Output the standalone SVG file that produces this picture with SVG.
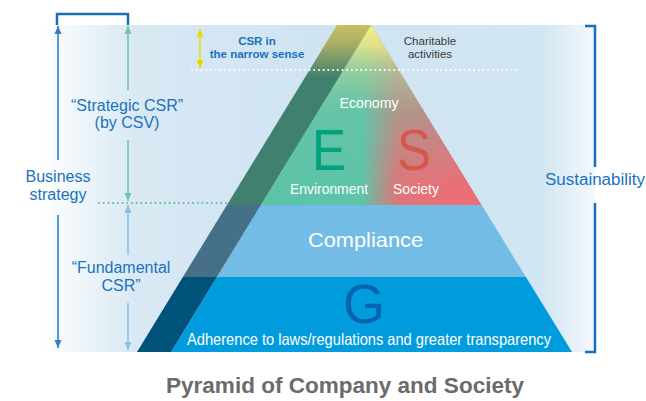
<svg xmlns="http://www.w3.org/2000/svg" width="646" height="401" viewBox="0 0 646 401">
<defs>
<linearGradient id="bg" gradientUnits="userSpaceOnUse" x1="40" y1="0" x2="595" y2="0">
<stop offset="0" stop-color="#ffffff"/>
<stop offset="0.17" stop-color="#d9e9f4"/>
<stop offset="0.5" stop-color="#cfe3f1"/>
<stop offset="0.9" stop-color="#d2e5f2"/>
<stop offset="1" stop-color="#f3f8fc"/>
</linearGradient>
<linearGradient id="es" gradientUnits="userSpaceOnUse" x1="260" y1="0" x2="482" y2="0">
<stop offset="0" stop-color="#5cc3a7"/>
<stop offset="0.46" stop-color="#5ec4a8"/>
<stop offset="0.62" stop-color="#de7679"/>
<stop offset="1" stop-color="#ef6c76"/>
</linearGradient>
<linearGradient id="tip" gradientUnits="userSpaceOnUse" x1="0" y1="25" x2="0" y2="205">
<stop offset="0" stop-color="#faef7e" stop-opacity="1"/>
<stop offset="0.12" stop-color="#e4e487" stop-opacity="0.92"/>
<stop offset="0.25" stop-color="#a9d39c" stop-opacity="0.72"/>
<stop offset="0.5" stop-color="#6cc4a6" stop-opacity="0.38"/>
<stop offset="0.9" stop-color="#6cc4a6" stop-opacity="0"/>
</linearGradient>
<linearGradient id="band" gradientUnits="userSpaceOnUse" x1="0" y1="25" x2="0" y2="352">
<stop offset="0" stop-color="#cbbf63"/>
<stop offset="0.06" stop-color="#a7ad66"/>
<stop offset="0.16" stop-color="#40806f"/>
<stop offset="0.55" stop-color="#40806f"/>
<stop offset="0.5505" stop-color="#466f88"/>
<stop offset="0.77" stop-color="#466f88"/>
<stop offset="0.7706" stop-color="#005279"/>
<stop offset="1" stop-color="#005279"/>
</linearGradient>
<marker id="mBlue" viewBox="0 0 8 8" refX="8" refY="4" markerWidth="8" markerHeight="8" markerUnits="userSpaceOnUse" orient="auto"><path d="M0,0.5 L8,4 L0,7.5 z" fill="#2f82c7"/></marker>
<marker id="mGreen" viewBox="0 0 8 8" refX="8" refY="4" markerWidth="8" markerHeight="8" markerUnits="userSpaceOnUse" orient="auto"><path d="M0,0.5 L8,4 L0,7.5 z" fill="#6cc5a7"/></marker>
<marker id="mLight" viewBox="0 0 8 8" refX="8" refY="4" markerWidth="8" markerHeight="8" markerUnits="userSpaceOnUse" orient="auto"><path d="M0,0.5 L8,4 L0,7.5 z" fill="#86c3e8"/></marker>
<marker id="mYellow" viewBox="0 0 8 8" refX="8" refY="4" markerWidth="8" markerHeight="8" markerUnits="userSpaceOnUse" orient="auto-start-reverse"><path d="M0,0.5 L8,4 L0,7.5 z" fill="#ecd800"/></marker>
<style>
text{font-family:"Liberation Sans",Arial,sans-serif;}
.blue{fill:#1a72bf;font-size:16px;}
.wt{fill:#ffffff;}
.br{fill:none;stroke:#1a6fba;stroke-width:2.5;}
</style>
</defs>

<rect id="panel" x="40" y="25" width="555" height="327" fill="url(#bg)"/>

<g id="pyramid">
<g id="layer-es">
<polygon points="371,25 260.9,205 481.6,205" fill="url(#es)"/>
<polygon points="371,25 260.9,205 481.6,205" fill="url(#tip)"/>
</g>
<polygon id="layer-compliance" points="260.9,205 481.6,205 525.9,277 216.9,277" fill="#73bce6"/>
<polygon id="layer-g" points="216.9,277 525.9,277 572,352 171,352" fill="#009cdd"/>
<polygon id="shadow-band" points="337,25 371,25 171,352 137,352" fill="url(#band)"/>
</g>

<g id="connectors">
<line x1="192" y1="70" x2="519" y2="70" stroke="#ffffff" stroke-width="2" stroke-linecap="round" stroke-dasharray="0.1 4.6"/>
<line x1="99" y1="203" x2="226" y2="203" stroke="#5cbfa0" stroke-width="2" stroke-linecap="round" stroke-dasharray="0.1 4.6"/>
<line x1="200" y1="29" x2="200" y2="68" stroke="#ecd800" stroke-width="1.5" marker-start="url(#mYellow)" marker-end="url(#mYellow)"/>
<path class="br" d="M57,25 V14 H128 V25"/>
<line x1="58" y1="160" x2="58" y2="26" stroke="#2f82c7" stroke-width="1.6" marker-end="url(#mBlue)"/>
<line x1="58" y1="215" x2="58" y2="348" stroke="#2f82c7" stroke-width="1.6" marker-end="url(#mBlue)"/>
<line x1="128" y1="90" x2="128" y2="26" stroke="#6cc5a7" stroke-width="1.6" marker-end="url(#mGreen)"/>
<line x1="128" y1="140" x2="128" y2="201" stroke="#6cc5a7" stroke-width="1.6" marker-end="url(#mGreen)"/>
<line x1="128" y1="255" x2="128" y2="205" stroke="#86c3e8" stroke-width="1.6" marker-end="url(#mLight)"/>
<line x1="128" y1="303" x2="128" y2="350" stroke="#86c3e8" stroke-width="1.6" marker-end="url(#mLight)"/>
<path class="br" d="M585,26 H595 V167"/>
<path class="br" d="M595,203 V352 H585"/>
</g>

<g id="label-csr-narrow">
<text x="257" y="45" text-anchor="middle" font-size="11.5" font-weight="bold" fill="#1a72bf">CSR in</text>
<text x="257" y="57.5" text-anchor="middle" font-size="11.5" font-weight="bold" fill="#1a72bf">the narrow sense</text>
</g>
<g id="label-charitable">
<text x="430" y="45" text-anchor="middle" font-size="11.5" fill="#3a3a3a">Charitable</text>
<text x="430" y="57.5" text-anchor="middle" font-size="11.5" fill="#3a3a3a">activities</text>
</g>
<g id="label-strategic">
<text class="blue" x="127" y="111" text-anchor="middle">“Strategic CSR”</text>
<text class="blue" x="127" y="128" text-anchor="middle">(by CSV)</text>
</g>
<g id="label-business">
<text class="blue" x="58" y="182" text-anchor="middle">Business</text>
<text class="blue" x="58" y="200" text-anchor="middle">strategy</text>
</g>
<g id="label-fundamental">
<text class="blue" x="121" y="273" text-anchor="middle">“Fundamental</text>
<text class="blue" x="121" y="291" text-anchor="middle">CSR”</text>
</g>
<g id="label-sustainability">
<text class="blue" x="545" y="185" font-size="16.5" textLength="100" lengthAdjust="spacingAndGlyphs">Sustainability</text>
</g>

<g id="label-economy"><text class="wt" x="369" y="108" text-anchor="middle" font-size="15" textLength="59" lengthAdjust="spacingAndGlyphs">Economy</text></g>
<g id="label-e"><text x="329" y="170" text-anchor="middle" font-size="58" fill="#00a37c" textLength="34" lengthAdjust="spacingAndGlyphs">E</text></g>
<g id="label-s"><text x="414" y="170" text-anchor="middle" font-size="58" fill="#d6574e" textLength="34" lengthAdjust="spacingAndGlyphs">S</text></g>
<g id="label-environment"><text class="wt" x="329" y="194" text-anchor="middle" font-size="14.5" textLength="78" lengthAdjust="spacingAndGlyphs">Environment</text></g>
<g id="label-society"><text class="wt" x="416" y="194" text-anchor="middle" font-size="14.5" textLength="46" lengthAdjust="spacingAndGlyphs">Society</text></g>
<g id="label-compliance"><text class="wt" x="365.5" y="247" text-anchor="middle" font-size="21" textLength="115" lengthAdjust="spacingAndGlyphs">Compliance</text></g>
<g id="label-g"><text x="364" y="323" text-anchor="middle" font-size="56" fill="#0a63ae" textLength="42" lengthAdjust="spacingAndGlyphs">G</text></g>
<g id="label-adherence"><text class="wt" x="369" y="345" text-anchor="middle" font-size="16.5" textLength="364" lengthAdjust="spacingAndGlyphs">Adherence to laws/regulations and greater transparency</text></g>

<g id="title"><text x="345" y="393" text-anchor="middle" font-size="22" font-weight="bold" fill="#6b6b6b" textLength="358" lengthAdjust="spacingAndGlyphs">Pyramid of Company and Society</text></g>
</svg>
